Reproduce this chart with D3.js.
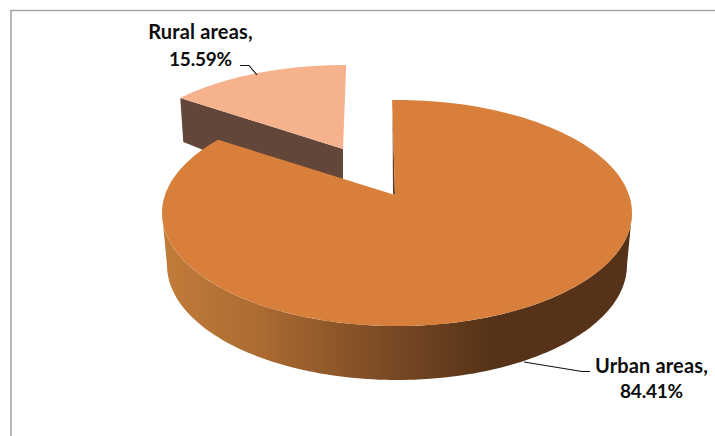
<!DOCTYPE html>
<html>
<head>
<meta charset="utf-8">
<script src="https://cdn.jsdelivr.net/npm/d3@7"></script>
<style>
  html, body { margin: 0; padding: 0; background: #fff; }
  svg { display: block; }
  text { font-family: Lato, "Open Sans", sans-serif; font-weight: 700; fill: #0d0d0d; }
</style>
</head>
<body>
<svg id="chart" width="715" height="436"></svg>
<script>
// Share of population by area type
const categories = ["Urban areas", "Rural areas"];
const shares = [84.41, 15.59];

const svg = d3.select("#chart");
const width = 715, height = 436;
const TAU = Math.PI * 2;

// Chart area border: only the top and left edges fall inside the canvas
svg.append("path")
  .attr("d", `M11 ${height}V10.5H${width}`)
  .attr("fill", "none")
  .attr("stroke", "#a6a6a6")
  .attr("stroke-width", 1.6);

// Each exploded slice sits on its own perspective ellipse, with the hub
// displaced from the ellipse centre the way a tilted disc projects.
const sliceLayout = {
  "Urban areas": { cx: 397, cy: 213, rx: 235, ry: 113, hubX: 395, hubY: 195, turn: 0 },
  "Rural areas": { cx: 345, cy: 165, rx: 222, ry: 100, hubX: 343, hubY: 149, turn: 0.032 }
};

const arcs = d3.pie()
  .sort(null)
  .value(d => d)
  .startAngle(-0.015)
  .endAngle(TAU - 0.015)(shares);

// Point on the ellipse reached from the hub along pie angle a
function rimPoint(g, a) {
  const t = a + g.turn;
  const px = (g.hubX - g.cx) / g.rx, py = (g.hubY - g.cy) / g.ry;
  const dx = Math.sin(t), dy = -Math.cos(t);
  const b = px * dx + py * dy;
  const s = -b + Math.sqrt(b * b - px * px - py * py + 1);
  return [g.cx + g.rx * (px + s * dx), g.cy + g.ry * (py + s * dy)];
}

function sliceOutline(g, arc) {
  const n = 160;
  const pts = d3.range(n + 1).map(i =>
    rimPoint(g, arc.startAngle + (arc.endAngle - arc.startAngle) * i / n));
  return [[g.hubX, g.hubY], ...pts];
}

const line = d3.line();
const urban = sliceLayout["Urban areas"];
const rural = sliceLayout["Rural areas"];
const urbanArc = arcs[0], ruralArc = arcs[1];

// Shading along the outer wall of the large slice
const defs = svg.append("defs");
const wallShade = defs.append("linearGradient")
  .attr("id", "urbanWall")
  .attr("gradientUnits", "userSpaceOnUse")
  .attr("x1", 162).attr("x2", 632).attr("y1", 0).attr("y2", 0);
[[0, "#c27b3a"], [0.2, "#ad6c32"], [0.5, "#764723"], [0.7, "#563318"], [1, "#563318"]]
  .forEach(([o, c]) => wallShade.append("stop").attr("offset", o).attr("stop-color", c));

// Cut face of the small slice; the large slice is painted over its lower part
const ruralCorner = rimPoint(rural, ruralArc.startAngle);
svg.append("path")
  .attr("d", line([
    [rural.hubX, rural.hubY],
    ruralCorner,
    [ruralCorner[0] + 3, ruralCorner[1] + 44],
    [rural.hubX, rural.hubY + 57]
  ]) + "Z")
  .attr("fill", "#63463a");

// Small slice, top face
svg.append("path")
  .attr("d", line(sliceOutline(rural, ruralArc)) + "Z")
  .attr("fill", "#f5b28c");

// Outer wall of the large slice
const wallBottom = { cx: 397, cy: 265, rx: 230, ry: 115 };
const sweep = d3.range(0, 121).map(i => i / 120 * Math.PI);
const wallPts = [
  ...sweep.map(t => [urban.cx + urban.rx * Math.cos(t), urban.cy + urban.ry * Math.sin(t)]),
  ...sweep.slice().reverse().map(t => [wallBottom.cx + wallBottom.rx * Math.cos(t), wallBottom.cy + wallBottom.ry * Math.sin(t)])
];
svg.append("path")
  .attr("d", line(wallPts) + "Z")
  .attr("fill", "url(#urbanWall)");

// Thin sliver of the inner cut face, seen along the opening
const urbanStart = rimPoint(urban, urbanArc.startAngle);
svg.append("path")
  .attr("d", line([
    [urbanStart[0] + 0.5, urbanStart[1] + 12],
    [urban.hubX, urban.hubY],
    [urban.hubX - 2, urban.hubY - 1]
  ]) + "Z")
  .attr("fill", "#5d3d25");

// Large slice, top face
svg.append("path")
  .attr("d", line(sliceOutline(urban, urbanArc)) + "Z")
  .attr("fill", "#d8803b");

// Leader lines
const leaders = [
  [[240, 65.5], [249, 65.5], [257, 75]],
  [[524, 362], [582, 371.5], [590, 371.5]]
];
svg.selectAll("path.leader").data(leaders).join("path")
  .attr("class", "leader")
  .attr("d", d => line(d))
  .attr("fill", "none")
  .attr("stroke", "#111")
  .attr("stroke-width", 1.1);

// Data labels: category on the first line, share on the second
const labelAnchors = [
  { x: 651.5, y1: 373, y2: 398 },
  { x: 200.5, y1: 39, y2: 66 }
];
const labels = svg.selectAll("g.label").data(categories).join("g").attr("class", "label");
labels.append("text")
  .attr("x", (d, i) => labelAnchors[i].x)
  .attr("y", (d, i) => labelAnchors[i].y1)
  .attr("text-anchor", "middle")
  .attr("font-size", 20)
  .attr("letter-spacing", "0.15")
  .text(d => d + ",");
labels.append("text")
  .attr("x", (d, i) => labelAnchors[i].x)
  .attr("y", (d, i) => labelAnchors[i].y2)
  .attr("text-anchor", "middle")
  .attr("font-size", 19)
  .attr("letter-spacing", "-0.2")
  .text((d, i) => d3.format(".2f")(shares[i]) + "%");
</script>
</body>
</html>
